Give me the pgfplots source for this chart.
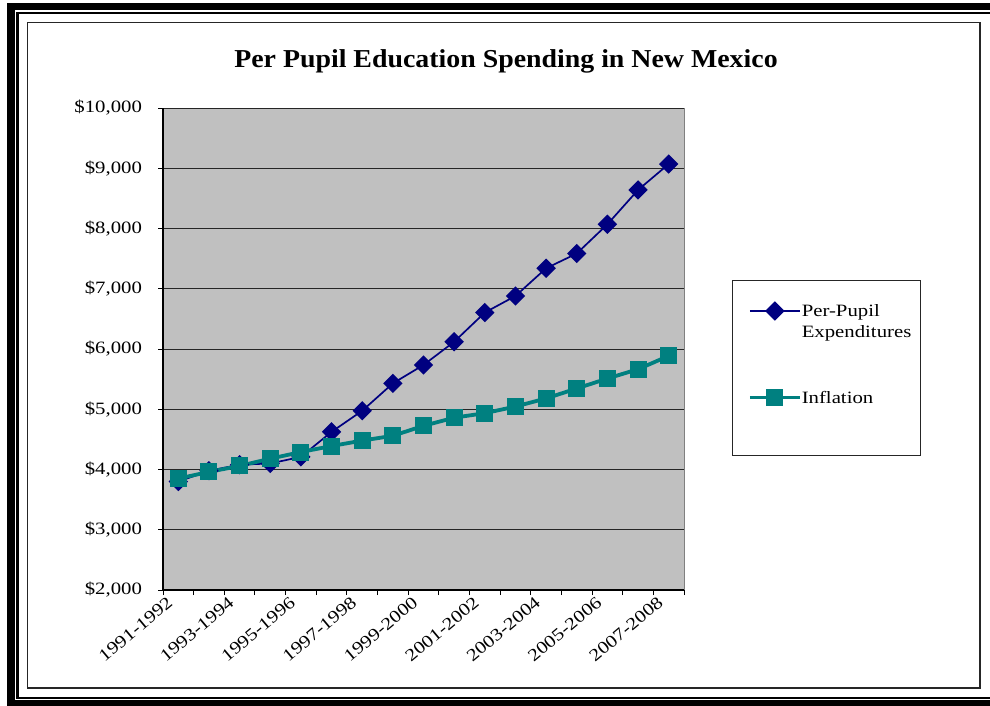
\documentclass[border=0pt]{standalone}
\usepackage{fontspec}
\setmainfont{Liberation Serif}[FakeStretch=1.2]
\newfontfamily\titlefont{Liberation Serif}[FakeStretch=1.08]
\usepackage{pgfplots}
\pgfplotsset{compat=1.18}
\usepackage{pgfplotstable}
\definecolor{ppnavy}{RGB}{0,0,128}
\definecolor{infteal}{RGB}{0,128,128}
\definecolor{plotgray}{RGB}{192,192,192}
\newcommand{\smallfont}{\fontsize{8.65pt}{10pt}\selectfont}

\pgfplotstableread{
idx val
0 3800
1 3980
2 4080
3 4100
4 4210
5 4625
6 4975
7 5430
8 5735
9 6120
10 6605
11 6880
12 7340
13 7585
14 8070
15 8640
16 9070
}\pupil
\pgfplotstableread{
idx val
0 3850
1 3960
2 4060
3 4180
4 4290
5 4390
6 4480
7 4560
8 4725
9 4860
10 4935
11 5045
12 5180
13 5345
14 5510
15 5665
16 5885
}\inflation

\begin{document}
\begin{tikzpicture}
\begin{scope}[x=0.5pt,y=-0.5pt]
\useasboundingbox (0,0) rectangle (990,706);
\fill[black] (7,3) rectangle (15,706);
\fill[black] (7,3) rectangle (990,10);
\fill[black] (7,700) rectangle (990,706);
\draw[black, line width=1.25pt] (990,13) -- (17.5,13) -- (17.5,698) -- (990,698);
\draw[black!85, line width=0.75pt] (27.5,22.5) rectangle (980,688);
\draw[black!85, line width=0.5pt] (732.7,280.7) rectangle (920,455.3);
\node[anchor=base, inner sep=0pt, font={\titlefont\bfseries\fontsize{12.9pt}{15pt}\selectfont}] at (506,68) {Per Pupil Education Spending in New Mexico};
\end{scope}
\begin{axis}[
  at={(81.5pt,-295pt)}, anchor=south west,
  scale only axis, width=260.5pt, height=241pt,
  xmin=-0.5, xmax=16.5, ymin=2000, ymax=10000,
  scaled y ticks=false,
  axis background/.style={fill=plotgray},
  axis x line*=bottom, axis y line*=left,
  axis line style={black, line width=0.6pt},
  ytick={2000,3000,4000,5000,6000,7000,8000,9000,10000},
  yticklabels={{\$2,000},{\$3,000},{\$4,000},{\$5,000},{\$6,000},{\$7,000},{\$8,000},{\$9,000},{\$10,000}},
  ymajorgrids, major grid style={black!85, line width=0.5pt},
  xtick={-0.5,0.5,1.5,2.5,3.5,4.5,5.5,6.5,7.5,8.5,9.5,10.5,11.5,12.5,13.5,14.5,15.5,16.5},
  xticklabels={},
  extra x ticks={0,2,4,6,8,10,12,14,16},
  extra x tick labels={1991-1992,1993-1994,1995-1996,1997-1998,1999-2000,2001-2002,2003-2004,2005-2006,2007-2008},
  extra x tick style={major tick length=0pt},
  tick align=outside, major tick length=2.5pt,
  tick style={black, line width=0.5pt},
  yticklabel style={font=\smallfont, xshift=-4.5pt},
  xticklabel style={font=\smallfont, xshift=-4pt, yshift=-5pt, rotate=40, anchor=east, inner sep=0pt},
  clip=false,
  legend style={draw=none, fill=none, inner sep=0pt, outer sep=0pt, row sep=2.7pt, column sep=0pt,
    nodes={inner sep=0pt}, cells={anchor=base west}, font=\smallfont,
    at={(1.1228,0.5965)}, anchor=north west},
  legend image code/.code={\draw[mark repeat=2,mark phase=2,#1] plot coordinates {(0pt,3pt) (12.5pt,3pt) (25pt,3pt)};},
  extra description/.code={\draw[gray, line width=0.5pt] (1,0) -- (1,1);},
]
\addplot[ppnavy, line width=0.85pt, mark=square*, mark size=3pt, mark options={rotate=45, fill=ppnavy, draw=ppnavy}] table[x=idx, y=val] {\pupil};
\addlegendentry{Per-Pupil}
\addlegendimage{empty legend}
\addlegendentry{Expenditures}
\addplot[infteal, line width=1.9pt, mark=square*, mark size=4pt, mark options={fill=infteal, draw=infteal, line width=0.5pt}] table[x=idx, y=val] {\inflation};
\addlegendentry{\rule{0pt}{28.9pt}Inflation}
\end{axis}
\end{tikzpicture}
\end{document}
